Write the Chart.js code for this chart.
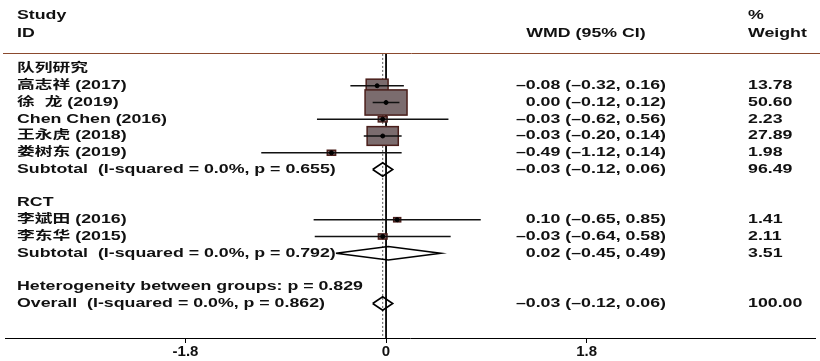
<!DOCTYPE html>
<html>
<head>
<meta charset="utf-8">
<script src="https://cdn.jsdelivr.net/npm/chart.js@4.4.1/dist/chart.umd.min.js"></script>
<style>
  html, body { margin: 0; padding: 0; background: #fff; }
  #wrap { width: 820px; height: 361px; }
</style>
</head>
<body>
<div id="wrap"><canvas id="forest"></canvas></div>
<script>
// data
const groupNames = ['队列研究', 'RCT'];
const studyNames = ['高志祥 (2017)', '徐  龙 (2019)', 'Chen Chen (2016)', '王永虎 (2018)', '娄树东 (2019)', '李斌田 (2016)', '李东华 (2015)'];
const studyGroup = [0, 0, 0, 0, 0, 1, 1];
const studyWmd = [-0.08, 0.00, -0.03, -0.03, -0.49, 0.10, -0.03];
const studyLow = [-0.32, -0.12, -0.62, -0.20, -1.12, -0.65, -0.64];
const studyHigh = [0.16, 0.12, 0.56, 0.14, 0.14, 0.85, 0.58];
const studyWeight = [13.78, 50.60, 2.23, 27.89, 1.98, 1.41, 2.11];

const subtotalLabels = ['Subtotal  (I-squared = 0.0%, p = 0.655)', 'Subtotal  (I-squared = 0.0%, p = 0.792)'];
const subtotalWmd = [-0.03, 0.02];
const subtotalLow = [-0.12, -0.45];
const subtotalHigh = [0.06, 0.49];
const subtotalWeight = [96.49, 3.51];

const hetLabel = 'Heterogeneity between groups: p = 0.829';
const overallLabel = 'Overall  (I-squared = 0.0%, p = 0.862)';
const overallWmd = [-0.03];
const overallLow = [-0.12];
const overallHigh = [0.06];
const overallWeight = [100.00];

const xTicks = [-1.8, 0, 1.8];

// build the row list
const rows = [];
groupNames.forEach((g, gi) => {
    rows.push({ type: 'group', text: g });
    studyNames.forEach((s, i) => {
        if (studyGroup[i] === gi) rows.push({ type: 'study', i: i });
    });
    rows.push({ type: 'subtotal', g: gi });
    rows.push({ type: 'blank' });
});
rows.pop();
rows.push({ type: 'blank' });
rows.push({ type: 'het' });
rows.push({ type: 'overall' });

const ciData = [];
const pointData = [];
const diamondData = [];
const DH = 0.4;
function addDiamond(est, lo, hi, r) {
    diamondData.push({ x: lo, y: r }, { x: est, y: r - DH }, { x: hi, y: r }, { x: est, y: r + DH }, { x: lo, y: r }, { x: null, y: null });
}
rows.forEach((row, r) => {
    if (row.type === 'study') {
        ciData.push({ x: studyLow[row.i], y: r }, { x: studyHigh[row.i], y: r }, { x: null, y: null });
        pointData.push({ x: studyWmd[row.i], y: r, w: studyWeight[row.i] });
    } else if (row.type === 'subtotal') {
        addDiamond(subtotalWmd[row.g], subtotalLow[row.g], subtotalHigh[row.g], r);
    } else if (row.type === 'overall') {
        addDiamond(overallWmd[0], overallLow[0], overallHigh[0], r);
    }
});

const Y_MIN = -3.82, Y_MAX = 16.06, LINE_TOP = -0.9, HEADER_LINE = -0.98;
const X_MIN = -3.42, X_MAX = 3.85;

const fmt = v => v.toFixed(2).replace('-', '–');
const SX = 1.48;
const FONT = 'bold 12px "Liberation Sans", Arial, "Noto Sans CJK SC", sans-serif';

function txt(ctx, s, x, y, align) {
    ctx.save();
    ctx.scale(SX, 1);
    ctx.textAlign = align || 'left';
    ctx.fillText(s, x / SX, y);
    ctx.restore();
}

const forestPlugin = {
    id: 'forest',
    afterDatasetDraw(chart, args) {
        // boxes go on top of the reference lines, under the CI lines
        if (args.index !== 1) return;
        const ctx = chart.ctx, xs = chart.scales.x, ys = chart.scales.y;
        ctx.save();
        pointData.forEach(p => {
            const w = 5.9 * Math.sqrt(p.w), h = 0.6 * w;
            const cx = xs.getPixelForValue(p.x), cy = ys.getPixelForValue(p.y);
            ctx.fillStyle = '#7b6c6e';
            ctx.strokeStyle = '#4a1e1a';
            ctx.lineWidth = 1.5;
            ctx.fillRect(cx - w / 2, cy - h / 2, w, h);
            ctx.strokeRect(cx - w / 2, cy - h / 2, w, h);
        });
        ctx.restore();
    },
    afterDraw(chart) {
        const ctx = chart.ctx, ys = chart.scales.y;
        ctx.save();
        // header rule
        ctx.strokeStyle = '#8b4a2e';
        ctx.lineWidth = 1;
        const hy = Math.round(ys.getPixelForValue(HEADER_LINE)) + 0.5;
        ctx.beginPath(); ctx.moveTo(3, hy); ctx.lineTo(820, hy); ctx.stroke();

        ctx.fillStyle = '#111';
        ctx.font = FONT;
        ctx.textBaseline = 'middle';
        const yh1 = ys.getPixelForValue(-3.18), yh2 = ys.getPixelForValue(-2.13);
        txt(ctx, 'Study', 17, yh1);
        txt(ctx, 'ID', 17, yh2);
        txt(ctx, 'WMD (95% CI)', 586, yh2, 'center');
        txt(ctx, '%', 748, yh1);
        txt(ctx, 'Weight', 748, yh2);

        rows.forEach((row, r) => {
            const y = ys.getPixelForValue(r);
            if (row.type === 'group') {
                txt(ctx, row.text, 17, y);
            } else if (row.type === 'study') {
                const i = row.i;
                txt(ctx, studyNames[i], 17, y);
                txt(ctx, fmt(studyWmd[i]) + ' (' + fmt(studyLow[i]) + ', ' + fmt(studyHigh[i]) + ')', 666, y, 'right');
                txt(ctx, studyWeight[i].toFixed(2), 748, y);
            } else if (row.type === 'subtotal') {
                const g = row.g;
                txt(ctx, subtotalLabels[g], 17, y);
                txt(ctx, fmt(subtotalWmd[g]) + ' (' + fmt(subtotalLow[g]) + ', ' + fmt(subtotalHigh[g]) + ')', 666, y, 'right');
                txt(ctx, subtotalWeight[g].toFixed(2), 748, y);
            } else if (row.type === 'het') {
                txt(ctx, hetLabel, 17, y);
            } else if (row.type === 'overall') {
                txt(ctx, overallLabel, 17, y);
                txt(ctx, fmt(overallWmd[0]) + ' (' + fmt(overallLow[0]) + ', ' + fmt(overallHigh[0]) + ')', 666, y, 'right');
                txt(ctx, overallWeight[0].toFixed(2), 748, y);
            }
        });
        ctx.restore();
    }
};

new Chart(document.getElementById('forest'), {
    type: 'scatter',
    data: {
        datasets: [
            {   // dashed line at overall estimate
                data: [{ x: overallWmd[0], y: LINE_TOP }, { x: overallWmd[0], y: Y_MAX }],
                showLine: true, borderColor: '#555', borderWidth: 1, borderDash: [2, 2],
                pointRadius: 0, order: 5
            },
            {   // no-effect line
                data: [{ x: 0, y: LINE_TOP }, { x: 0, y: Y_MAX }],
                showLine: true, borderColor: '#000', borderWidth: 1.8,
                pointRadius: 0, order: 4
            },
            {   // confidence intervals
                data: ciData,
                showLine: true, borderColor: '#111', borderWidth: 1.3,
                pointRadius: 0, order: 3
            },
            {   // point estimates
                data: pointData,
                showLine: false, backgroundColor: '#000', borderColor: '#000',
                pointRadius: 2, order: 2
            },
            {   // pooled diamonds
                data: diamondData,
                showLine: true, borderColor: '#000', borderWidth: 1.6,
                pointRadius: 0, order: 1
            }
        ]
    },
    options: {
        responsive: true,
        maintainAspectRatio: false,
        animation: false,
        layout: { padding: 0 },
        plugins: { legend: { display: false }, tooltip: { enabled: false } },
        scales: {
            x: {
                type: 'linear',
                min: X_MIN,
                max: X_MAX,
                afterBuildTicks: axis => { axis.ticks = xTicks.map(v => ({ value: v })); },
                afterFit: axis => { axis.height = 23; },
                grid: { drawOnChartArea: false, drawTicks: true, tickLength: 5, color: '#000' },
                border: { display: true, color: '#000', width: 1 },
                ticks: {
                    color: '#111',
                    padding: 1,
                    font: { family: '"Liberation Sans", Arial, sans-serif', size: 15, weight: 'bold', lineHeight: 1 },
                    callback: v => String(v)
                }
            },
            y: {
                type: 'linear',
                display: false,
                reverse: true,
                min: Y_MIN,
                max: Y_MAX
            }
        }
    },
    plugins: [forestPlugin]
});
</script>
</body>
</html>
